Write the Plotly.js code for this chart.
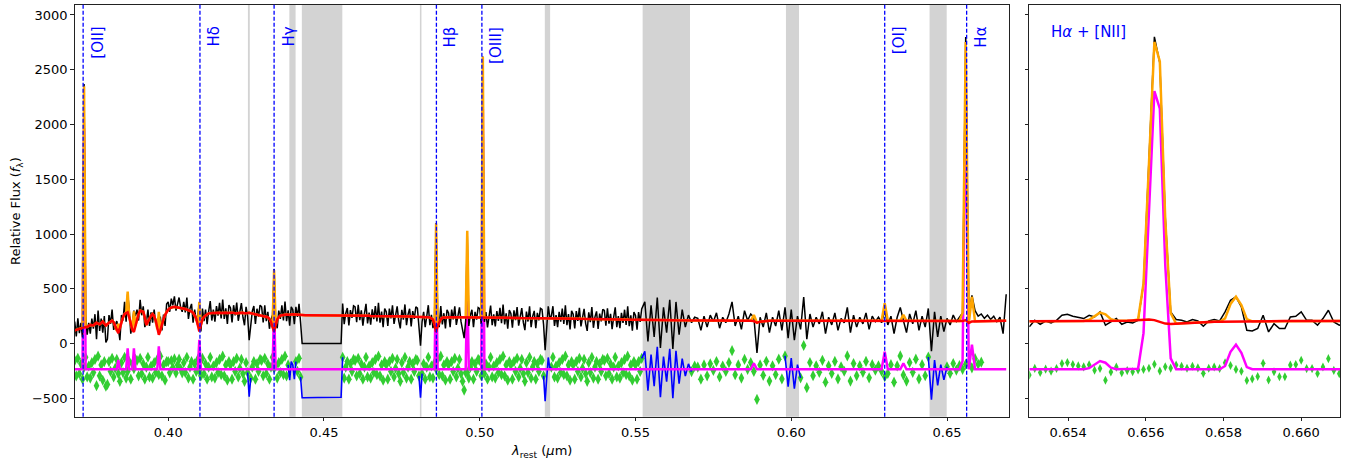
<!DOCTYPE html>
<html><head><meta charset="utf-8">
<script src="https://cdn.plot.ly/plotly-3.0.1.min.js"></script>
<style>html,body{margin:0;padding:0;background:#fff}#chart{width:1361px;height:466px}</style>
</head><body><div id="chart"></div>
<script>
// ---------- main panel data (wavelength in nm) ----------
const waveNm = [
370,370.5,371,371.5,372,372.5,373,373.5,374,374.5,
375,375.5,376,376.5,377,377.5,378,378.5,379,379.5,
380,380.5,381,381.5,382,382.5,383,383.5,384,384.5,
385,385.5,386,386.5,387,387.5,388,388.5,389,389.5,
390,390.5,391,391.5,392,392.5,393,393.5,394,394.5,
395,395.5,396,396.5,397,397.5,398,398.5,399,399.5,
400,400.5,401,401.5,402,402.5,403,403.5,404,404.5,
405,405.5,406,406.5,407,407.5,408,408.5,409,409.5,
410,410.5,411,411.5,412,412.5,413,413.5,414,414.5,
415,415.5,416,416.5,417,417.5,418,418.5,419,419.5,
420,420.5,421,421.5,422,422.5,423,423.5,424,424.5,
425,425.5,426,426.5,427,427.5,428,428.5,429,429.5,
430,430.5,431,431.5,432,432.5,433,433.5,434,434.5,
435,435.5,436,436.5,437,437.5,438,438.5,439,439.5,
440,440.5,441,441.5,442,442.5,443,443.5,444,444.5,
445,445.5,446,446.5,447,447.5,448,448.5,449,449.5,
450,450.5,451,451.5,452,452.5,453,453.5,454,454.5,
455,455.5,456,456.5,457,457.5,458,458.5,459,459.5,
460,460.5,461,461.5,462,462.5,463,463.5,464,464.5,
465,465.5,466,466.5,467,467.5,468,468.5,469,469.5,
470,470.5,471,471.5,472,472.5,473,473.5,474,474.5,
475,475.5,476,476.5,477,477.5,478,478.5,479,479.5,
480,480.5,481,481.5,482,482.5,483,483.5,484,484.5,
485,485.5,486,486.5,487,487.5,488,488.5,489,489.5,
490,490.5,491,491.5,492,492.5,493,493.5,494,494.5,
495,495.5,496,496.5,497,497.5,498,498.5,499,499.5,
500,500.5,501,501.5,502,502.5,503,503.5,504,504.5,
505,505.5,506,506.5,507,507.5,508,508.5,509,509.5,
510,510.5,511,511.5,512,512.5,513,513.5,514,514.5,
515,515.5,516,516.5,517,517.5,518,518.5,519,519.5,
520,520.5,521,521.5,522,522.5,523,523.5,524,524.5,
525,525.5,526,526.5,527,527.5,528,528.5,529,529.5,
530,530.5,531,531.5,532,532.5,533,533.5,534,534.5,
535,535.5,536,536.5,537,537.5,538,538.5,539,539.5,
540,540.5,541,541.5,542,542.5,543,543.5,544,544.5,
545,545.5,546,546.5,547,547.5,548,548.5,549,549.5,
550,550.5,551,551.5,552,
553,554,555,556,557,558,559,
560,561,562,563,564,565,566,567,568,569,
570,571,572,573,574,575,576,577,578,579,
580,581,582,583,584,585,586,587,588,589,
590,591,592,593,594,595,596,597,598,599,
600,601,602,603,604,605,606,607,608,609,
610,611,612,613,614,615,616,617,618,619,
620,621,622,623,624,625,626,627,628,629,
630,631,632,633,634,635,636,637,638,639,
640,641,642,643,644,645,646,647,648,649,
650,651,652,653,654,655,656,657,658,659,
660,661,662,663,664,665,666,667,668,669];

// stellar best fit (red)
const starsFit = [
120,125,130,135,140,145,150,150,150,160,
170,168,165,178,190,182,175,188,200,180,
165,178,190,200,210,195,160,115,95,140,
200,240,270,280,285,240,180,125,105,160,
230,270,300,298,290,240,170,200,230,255,
270,250,210,130,80,120,180,225,260,290,
310,322,330,333,335,333,330,328,325,322,
320,315,310,305,300,292,280,260,230,170,
110,170,220,245,260,268,275,278,280,280,
280,282,285,282,280,282,285,282,280,282,
285,282,280,277,275,278,280,280,280,277,
275,278,280,277,275,272,270,268,265,260,
255,252,250,245,240,225,200,150,110,170,
220,240,255,259,262,264,265,263,262,265,
268,266,265,263,262,261,260,260,259,259,
259,259,258,258,258,258,258,258,258,258,
258,258,258,258,257,257,257,257,257,257,
257,256,256,256,255,255,255,255,255,255,
255,255,254,254,254,254,253,253,253,253,
252,252,252,252,251,251,251,251,250,250,
250,250,250,250,249,249,249,249,248,248,
248,248,247,247,247,247,246,246,245,245,
243,242,240,240,240,240,240,240,238,232,
220,170,106,160,200,222,235,237,238,239,
240,240,240,240,240,240,240,240,240,240,
240,240,240,240,239,239,239,239,238,238,
238,238,238,238,237,237,237,237,237,237,
236,236,236,236,236,236,235,235,235,235,
235,235,234,234,234,234,233,233,233,233,
232,231,230,229,228,228,230,230,231,231,
232,232,232,232,232,232,231,231,230,230,
230,230,229,229,229,229,228,228,228,228,
227,227,227,227,226,226,226,226,225,225,
225,225,224,224,224,224,223,223,223,223,
222,222,222,222,221,221,221,221,220,220,
220,220,219,219,219,219,218,218,218,218,
217,217,217,217,216,
216,215,215,215,214,214,214,
213,213,213,212,212,212,212,211,211,211,
210,210,210,210,210,210,210,210,210,210,
210,210,210,210,210,210,210,208,205,190,
200,205,207,208,208,208,208,208,208,208,
208,208,208,208,208,208,208,208,208,208,
208,208,208,208,208,208,208,208,208,208,
208,208,208,208,208,208,208,208,208,208,
208,208,208,208,208,208,208,208,208,208,
208,208,208,208,208,208,207,207,207,207,
207,207,207,207,206,205,214,188,202,203,
204,205,206,207,207,208,208,208,208,208];

// observed spectrum (black)
const galaxy = [
200,65,230,95,190,55,2370,260,80,190,
90,228,135,268,40,302,115,228,100,250,
10,40,260,180,310,125,170,205,140,30,
260,210,380,200,455,310,90,175,300,250,
310,210,400,258,340,150,190,310,160,285,
190,310,180,220,240,240,120,265,160,360,
380,290,410,350,430,300,370,420,330,290,
380,285,420,225,320,362,190,310,210,260,
370,110,320,205,310,178,295,388,210,310,
200,342,255,372,230,402,225,322,180,352,
325,192,350,257,375,208,290,370,240,167,
335,248,30,197,295,342,180,318,245,350,
335,192,350,205,290,135,220,260,680,200,
140,300,225,349,212,384,205,303,162,335,
308,176,335,243,362,191,0,0,0,0,
0,0,0,0,0,0,0,0,0,0,
0,0,0,0,0,0,0,0,0,0,
0,0,366,176,275,325,165,305,235,345,
335,195,354,214,304,164,273,363,183,283,
172,312,222,342,201,371,191,291,150,320,
290,160,320,230,349,179,259,339,208,138,
308,218,357,167,267,317,156,296,225,335,
323,182,-20,200,290,150,260,350,168,262,
140,230,1100,250,150,342,175,277,138,309,
280,150,310,220,340,170,250,330,200,130,
50,210,1000,160,259,309,149,289,218,328,
318,178,2620,198,287,147,257,347,167,267,
156,296,206,326,186,356,175,275,135,305,
275,145,304,214,334,164,243,323,193,123,
292,201,340,149,248,298,140,280,211,321,
312,172,-60,150,340,240,251,341,160,260,
150,290,199,319,179,349,168,268,128,298,
267,137,297,207,326,156,236,316,185,115,
285,195,334,144,244,294,133,273,203,313,
302,162,322,182,271,131,241,331,150,250,
140,280,189,309,169,339,158,258,118,288,
257,127,287,197,316,
380,20,350,60,420,-40,330,
100,400,-50,380,80,310,150,260,190,240,
230,120,250,150,260,200,280,140,240,190,
270,380,160,250,130,300,210,270,240,-85,
240,150,280,100,240,160,300,120,330,50,
310,30,250,130,425,40,270,150,240,180,
290,90,240,170,280,120,230,190,330,100,
260,150,240,180,280,130,250,200,240,190,
300,170,250,90,240,330,210,100,270,180,
300,120,250,150,320,-70,290,60,250,110,
230,170,260,200,240,280,2800,240,440,300,
250,270,230,260,220,250,200,240,90,450];

// gas emission lines (magenta / orange), sparse
const gasLineNm   = [373, 384, 387, 389, 397, 410, 434, 486, 496, 501,  588, 630, 636, 655, 656,  658];
const gasLineFlux = [2200, 85, 190, 190, 210, 270, 560, 990, 790, 2380, 55,  160, 55,  75,  2540, 225];

// masked wavelength spans (µm)
const maskStart = [0.4256, 0.4389, 0.4429, 0.4808, 0.5209, 0.5523, 0.5983, 0.6444];
const maskEnd   = [0.4262, 0.4409, 0.4559, 0.4813, 0.5226, 0.5675, 0.6025, 0.6499];
const fitEndNm = 661;
const residOffset = -235;

// emission line markers
const lineWave = [0.3727, 0.4102, 0.4340, 0.4861, 0.5007, 0.6300, 0.6563];
const lineName = ['[OII]', 'Hδ', 'Hγ', 'Hβ', '[OIII]', '[OI]', 'Hα'];

// ---------- zoom panel data ----------
const zWave = [
0.65300,0.65314,0.65328,0.65342,0.65356,0.65370,0.65384,0.65398,0.65412,0.65426,
0.65440,0.65454,0.65468,0.65482,0.65496,0.65510,0.65524,0.65538,0.65552,0.65566,
0.65580,0.65594,0.65608,0.65622,0.65636,0.65650,0.65664,0.65678,0.65692,0.65706,
0.65720,0.65734,0.65748,0.65762,0.65776,0.65790,0.65804,0.65818,0.65832,0.65846,
0.65860,0.65874,0.65888,0.65902,0.65916,0.65930,0.65944,0.65958,0.65972,0.65986,
0.66000,0.66014,0.66028,0.66042,0.66056,0.66070,0.66084,0.66098,0.66112];
const zGalaxy = [
152,212,176,206,188,212,258,267,249,237,
228,258,243,289,167,197,228,176,197,188,
212,547,1650,2800,2560,1155,289,219,212,197,
219,206,158,206,219,206,289,395,426,334,
121,115,137,258,106,182,137,137,243,249,
289,212,212,167,228,304,197,167,182];
const zStars = [
204,204,205,205,205,205,206,206,206,206,
206,207,207,207,207,207,208,208,209,211,
214,218,220,214,196,182,178,181,185,188,
191,193,195,196,198,199,200,201,202,202,
203,203,203,204,204,204,205,205,205,205,
206,206,206,206,207,207,207,207,207];
const zGas = [
0,0,0,0,0,0,0,0,0,0,
0,10,45,75,60,15,0,0,0,0,
5,330,1420,2540,2380,950,100,0,0,0,
0,0,0,0,0,0,30,160,225,150,
20,0,0,0,0,0,0,0,0,0,
0,0,0,0,0,0,0,0,0];

// ---------- derived series ----------
const wave = waveNm.map(n => n / 1000);
const gas = waveNm.map(n => { const j = gasLineNm.indexOf(n); return j >= 0 ? gasLineFlux[j] : 0; });
const bestfit = starsFit.map((s, i) => s + gas[i]);
const resid = galaxy.map((g, i) => g - bestfit[i] + residOffset);
const masked = wave.map(w => maskStart.some((s, k) => w >= s && w <= maskEnd[k]));
const inFit = waveNm.map(n => n <= fitEndNm);

const gx = [], gy = [];
wave.forEach((w, i) => { if (inFit[i] && !masked[i]) { gx.push(w); gy.push(resid[i]); } });
const bx = [], by = [];
for (let i = 0; i < wave.length;) {
  if (masked[i]) {
    let j = i;
    while (j + 1 < wave.length && masked[j + 1]) j++;
    for (let k = Math.max(0, i - 1); k <= Math.min(wave.length - 1, j + 1); k++) { bx.push(wave[k]); by.push(resid[k]); }
    bx.push(null); by.push(null);
    i = j + 1;
  } else i++;
}
const gasLine = gas.map(g => g + residOffset);

const zBest = zStars.map((s, i) => s + zGas[i]);
const zResid = zGalaxy.map((g, i) => g - zBest[i] + residOffset);
const zGasLine = zGas.map(g => g + residOffset);

const GREEN = '#32cd32', BLUE = '#0000ff', MAG = '#ff00ff', ORANGE = '#ffa500', RED = '#ff0000';

function panel(xa, ya, x, gal, best, stars, gasl, rx, ry, bxx, byy, msize) {
  const t = [];
  t.push({x: rx, y: ry, xaxis: xa, yaxis: ya, type: 'scatter', mode: 'markers',
    marker: {symbol: 'diamond-tall', size: msize, color: GREEN, line: {width: 0}}, hoverinfo: 'skip'});
  if (bxx) t.push({x: bxx, y: byy, xaxis: xa, yaxis: ya, type: 'scatter', mode: 'lines',
    line: {color: BLUE, width: 1.6}, connectgaps: false, hoverinfo: 'skip'});
  t.push({x: x, y: gasl, xaxis: xa, yaxis: ya, type: 'scatter', mode: 'lines', line: {color: MAG, width: 2.5}, hoverinfo: 'skip'});
  t.push({x: x, y: gal, xaxis: xa, yaxis: ya, type: 'scatter', mode: 'lines', line: {color: '#000', width: 1.5}, hoverinfo: 'skip'});
  t.push({x: x, y: best, xaxis: xa, yaxis: ya, type: 'scatter', mode: 'lines', line: {color: ORANGE, width: 2.5}, hoverinfo: 'skip'});
  t.push({x: x, y: stars, xaxis: xa, yaxis: ya, type: 'scatter', mode: 'lines', line: {color: RED, width: 2.5}, hoverinfo: 'skip'});
  return t;
}

const traces = [].concat(
  panel('x', 'y', wave, galaxy, bestfit, starsFit, gasLine, gx, gy, bx, by, 8),
  panel('x2', 'y2', zWave, zGalaxy, zBest, zStars, zGasLine, zWave, zResid, null, null, 6.5)
);

const yRange = [-668, 3094];
const yDom = [0.1058, 0.9899];
const axBase = {showline: true, mirror: true, linecolor: '#222', linewidth: 1, ticks: 'outside', ticklen: 3.5,
  tickwidth: 1, tickcolor: '#222', showgrid: false, zeroline: false, tickfont: {size: 13, color: '#000'}};

const shapes = [];
maskStart.forEach((s, k) => shapes.push({type: 'rect', xref: 'x', yref: 'paper', x0: s, x1: maskEnd[k],
  y0: yDom[0], y1: yDom[1], fillcolor: '#d3d3d3', line: {width: 0}, layer: 'below'}));
lineWave.forEach(w => shapes.push({type: 'line', xref: 'x', yref: 'paper', x0: w, x1: w, y0: yDom[0], y1: yDom[1],
  line: {color: BLUE, width: 1.3, dash: '4px,2px'}, layer: 'above'}));

const annotations = lineWave.map((w, i) => ({xref: 'x', yref: 'paper', x: w, y: 0.9474, xshift: 14,
  xanchor: 'center', yanchor: 'top', textangle: -90, text: lineName[i], showarrow: false,
  font: {color: BLUE, size: 15}}));
annotations.push({xref: 'paper', yref: 'paper', x: 1049 / 1361, y: (466 - 32) / 466, xanchor: 'left', yanchor: 'middle',
  text: 'H<i>α</i> + [NII]', showarrow: false, font: {color: BLUE, size: 15}});
annotations.push({xref: 'paper', yref: 'paper', x: 16 / 1361, y: (466 - 211) / 466, xanchor: 'center', yanchor: 'middle',
  textangle: -90, text: 'Relative Flux (<i>f</i><sub>λ</sub>)', showarrow: false, font: {size: 13, color: '#000'}});
annotations.push({xref: 'paper', yref: 'paper', x: 541.5 / 1361, y: (466 - 451) / 466, xanchor: 'center', yanchor: 'middle',
  text: '<i>λ</i><sub>rest</sub> (<i>μ</i>m)', showarrow: false, font: {size: 13, color: '#000'}});

const layout = {
  width: 1361, height: 466, margin: {l: 0, r: 0, t: 0, b: 0}, paper_bgcolor: '#fff', plot_bgcolor: '#fff',
  showlegend: false, font: {family: 'DejaVu Sans', size: 13, color: '#000'},
  xaxis: Object.assign({}, axBase, {domain: [0.0549, 0.7416], range: [0.370, 0.670], tick0: 0.40, dtick: 0.05, tickformat: '.2f', anchor: 'y'}),
  yaxis: Object.assign({}, axBase, {domain: yDom, range: yRange, tick0: 0, dtick: 500, anchor: 'x'}),
  xaxis2: Object.assign({}, axBase, {domain: [0.7563, 0.9846], range: [0.653, 0.661], tickvals: [0.654, 0.656, 0.658, 0.660], tickformat: '.3f', anchor: 'y2'}),
  yaxis2: Object.assign({}, axBase, {domain: yDom, range: yRange, tick0: 0, dtick: 500, showticklabels: false, anchor: 'x2'}),
  shapes: shapes, annotations: annotations
};

Plotly.newPlot('chart', traces, layout, {displayModeBar: false, staticPlot: true});
</script></body></html>
